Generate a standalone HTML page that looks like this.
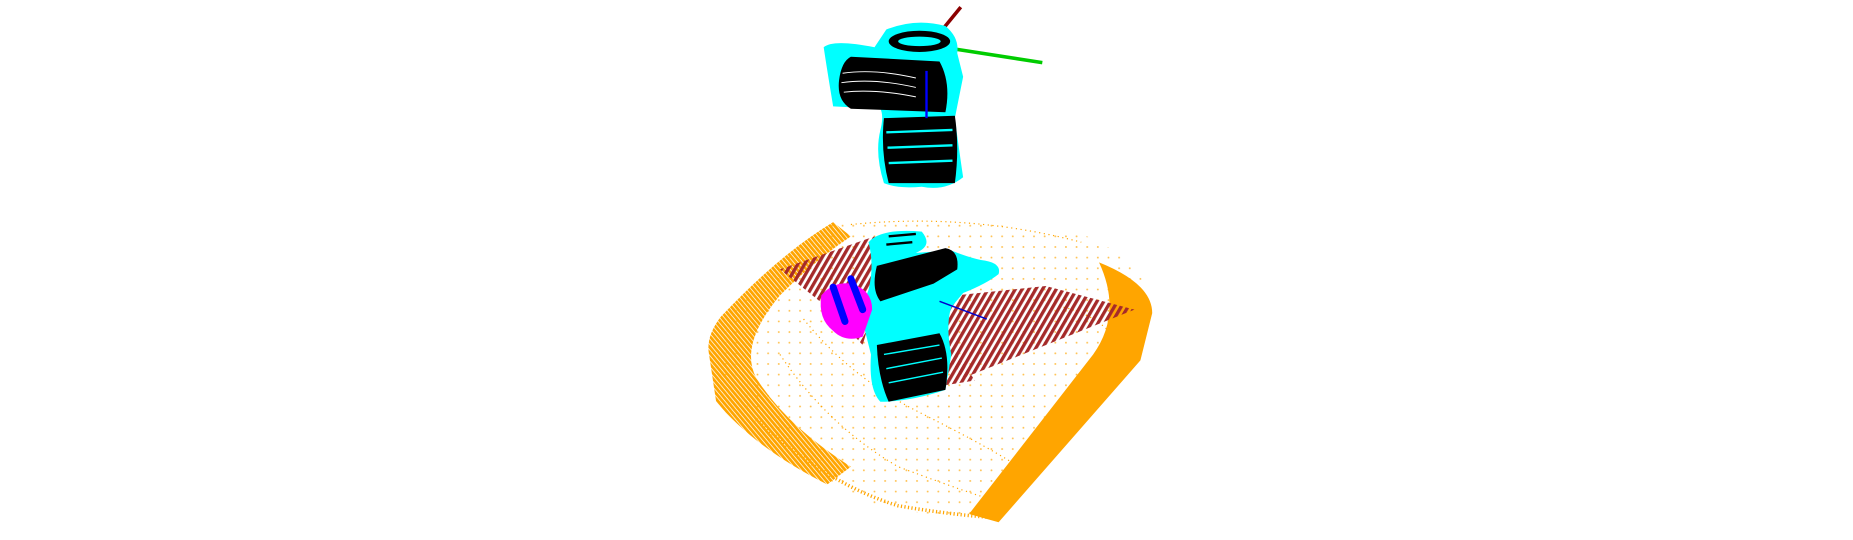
<!DOCTYPE html>
<html><head><meta charset="utf-8"><style>
html,body{margin:0;padding:0;background:#fff;width:1853px;height:540px;overflow:hidden}
svg{display:block}
</style></head><body>
<svg width="1853" height="540" viewBox="0 0 1568 457" preserveAspectRatio="none" xmlns="http://www.w3.org/2000/svg">
<defs>
<pattern id="od" width="9" height="9" patternUnits="userSpaceOnUse"><circle cx="2" cy="2" r="0.8" fill="#ffa500"/></pattern>
<pattern id="bd" width="5" height="5" patternUnits="userSpaceOnUse" patternTransform="rotate(30)"><rect width="2.8" height="5" fill="#a52a2a"/></pattern>
<pattern id="ol" width="3" height="3" patternUnits="userSpaceOnUse" patternTransform="rotate(-40)"><rect width="2.4" height="3" fill="#ffa500"/></pattern>
</defs>
<g>
<path d="M710,185 Q760,178 920,200 Q975,225 972,262 L845,440 Q800,438 740,428 Q680,400 620,330 Q600,300 600,285 Q640,230 710,185 Z" fill="url(#od)" opacity="0.7"/>
<path d="M705,188 Q660,215 610,268 Q597,285 600,300 L606,340 Q640,380 700,410 L720,395 Q665,360 640,320 Q625,292 660,250 Q690,220 720,200 Z" fill="url(#ol)"/>
<path d="M930,222 Q975,240 975,265 L965,305 L845,442 L820,435 L925,300 Q950,265 930,222 Z" fill="#ffa500"/>
<path d="M640,355 Q700,410 760,428 Q800,435 840,438" fill="none" stroke="#ffa500" stroke-width="3" stroke-dasharray="1 2"/>
<path d="M680,270 Q720,320 780,350 Q840,380 870,400" fill="none" stroke="#ffa500" stroke-width="1" stroke-dasharray="1 3"/>
<path d="M660,300 Q700,360 760,395 Q800,410 830,420" fill="none" stroke="#ffa500" stroke-width="1" stroke-dasharray="1 3"/>
<path d="M720,190 Q820,180 915,205" fill="none" stroke="#ffa500" stroke-width="1" stroke-dasharray="1 3"/>
<path d="M900,260 Q940,270 950,300" fill="none" stroke="#ffa500" stroke-width="1" stroke-dasharray="1 3"/>
</g>
<g>
<polygon points="660,228 740,200 745,240 730,292 700,260" fill="url(#bd)"/>
<polygon points="790,252 885,242 960,262 815,320 800,300" fill="url(#bd)"/>
<polygon points="760,278 800,285 825,322 775,330 760,315" fill="url(#bd)"/>
</g>
<g>
<path d="M735,205 Q745,193 780,196 Q790,208 775,214 L805,212 Q820,218 830,220 Q848,222 845,232 Q835,240 815,248 L805,260 Q800,275 805,300 L800,330 Q770,340 745,340 Q735,330 737,300 L732,280 Q728,262 735,245 Q740,225 735,205 Z" fill="#00ffff"/>
<path d="M742,225 L800,210 Q812,212 810,228 L790,240 Q760,250 745,255 Q737,245 742,225 Z" fill="#000"/>
<path d="M742,292 L795,282 Q805,300 800,330 L752,340 Q743,320 742,292 Z" fill="#000"/>
<path d="M748,300 L795,292 M750,312 L797,303 M752,324 L798,315" stroke="#00ffff" stroke-width="1.2"/>
<path d="M752,200 L775,198 M750,207 L772,205" stroke="#000" stroke-width="2"/>
<line x1="795" y1="255" x2="835" y2="270" stroke="#0000cc" stroke-width="1.2"/>
</g>
<g>
<path d="M695,250 Q705,238 720,240 Q738,245 738,262 L730,285 Q715,290 705,280 Q692,270 695,250 Z" fill="#ff00ff"/>
<line x1="705" y1="243" x2="715" y2="272" stroke="#0000ff" stroke-width="6" stroke-linecap="round"/>
<line x1="720" y1="236" x2="730" y2="262" stroke="#0000ff" stroke-width="6" stroke-linecap="round"/>
</g>
<g>
<line x1="795" y1="28" x2="813" y2="6" stroke="#8b0000" stroke-width="3"/>
<line x1="805" y1="41" x2="882" y2="53" stroke="#00cc00" stroke-width="3"/>
<path d="M697,40 Q705,33 740,40 L750,25 Q775,15 800,22 Q812,32 810,45 L815,65 Q812,80 808,100 Q812,130 815,150 Q800,162 780,158 Q760,160 748,155 Q740,130 745,110 Q748,98 745,92 L705,90 Q700,60 697,40 Z" fill="#00ffff"/>
<path d="M720,48 L795,52 Q805,70 800,95 L720,92 Q708,85 710,68 Q712,52 720,48 Z" fill="#000"/>
<path d="M713,62 Q740,58 775,66 M712,70 Q740,66 775,74 M714,78 Q740,75 775,82" stroke="#fff" stroke-width="0.8" fill="none"/>
<ellipse cx="778" cy="35" rx="26" ry="9" fill="#000"/>
<ellipse cx="778" cy="35" rx="18" ry="4" fill="#00ffff"/>
<path d="M748,100 L808,98 Q812,125 808,155 L752,155 Q745,128 748,100 Z" fill="#000"/>
<path d="M750,112 L806,110 M751,125 L806,123 M752,138 L806,136" stroke="#00ffff" stroke-width="2"/>
<line x1="784" y1="60" x2="784" y2="100" stroke="#0000ff" stroke-width="2"/>
</g>
</svg>
</body></html>
